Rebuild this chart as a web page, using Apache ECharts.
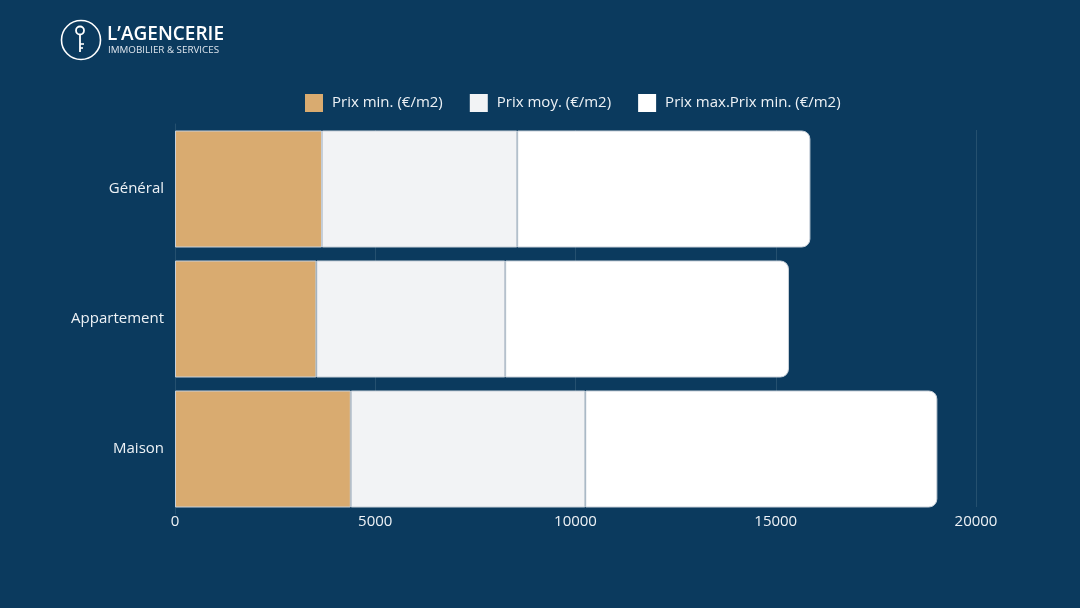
<!DOCTYPE html>
<html><head><meta charset="utf-8">
<script src="https://cdn.jsdelivr.net/npm/echarts@6/dist/echarts.min.js"></script>
<style>html,body{margin:0;padding:0;background:#0b3a5e}#c{width:1080px;height:608px}</style>
</head><body><div id="c"></div>
<script>
const categories = ['Général', 'Appartement', 'Maison'];
const seriesNames = ['Prix min. (€/m2)', 'Prix moy. (€/m2)', 'Prix max.Prix min. (€/m2)'];
const prixMin = [3670, 3530, 4390];
const prixMoy = [4875, 4715, 5855];
const prixMax = [7320, 7085, 8790];
const xTicks = [0, 5000, 10000, 15000, 20000];

const chart = echarts.init(document.getElementById('c'), null, {renderer: 'canvas'});
const FONT = '"Open Sans", "Noto Sans", sans-serif';
const bg = '#0b3a5e';
const border = '#c8d0d9';
const colors = ['#d9ab70', '#f2f3f5', '#ffffff'];
const datas = [prixMin, prixMoy, prixMax];

const option = {
  backgroundColor: bg,
  animation: false,
  textStyle: {fontFamily: FONT},
  legend: {
    top: 89, left: 300,
    itemWidth: 18, itemHeight: 18, itemGap: 27,
    icon: 'rect',
    itemStyle: {borderWidth: 0},
    textStyle: {color: '#eef2f6', fontSize: 15, fontFamily: FONT, padding: [0, 0, 0, 4]},
    data: seriesNames
  },
  grid: [
    {left: 175, right: 104, top: 130, bottom: 101},
    {left: 175, right: 104, top: 124, bottom: 94}
  ],
  xAxis: [
    {type: 'value', gridIndex: 0, min: xTicks[0], max: xTicks[xTicks.length - 1], interval: xTicks[1] - xTicks[0],
     axisLine: {show: false}, axisTick: {show: false},
     axisLabel: {color: '#eef2f6', fontSize: 15, fontFamily: FONT, margin: 7, formatter: v => String(v)},
     splitLine: {show: true, lineStyle: {color: '#25506f', width: 1}}},
    {type: 'value', gridIndex: 1, min: xTicks[0], max: xTicks[xTicks.length - 1],
     show: false, splitLine: {show: false}}
  ],
  yAxis: [
    {type: 'category', gridIndex: 0, data: categories, show: false},
    {type: 'category', gridIndex: 1, data: categories, inverse: true,
     axisLine: {show: true, lineStyle: {color: '#25506f'}}, axisTick: {show: false},
     axisLabel: {color: '#eef2f6', fontSize: 15, fontFamily: FONT, margin: 11}}
  ],
  series: seriesNames.map((n, i) => ({
    name: n, type: 'bar', stack: 'p', xAxisIndex: 1, yAxisIndex: 1,
    barWidth: 117,
    itemStyle: {color: colors[i], borderColor: border, borderWidth: 1,
      borderRadius: i === 2 ? [0, 8, 8, 0] : 0},
    emphasis: {disabled: true},
    data: datas[i]
  })),
  graphic: [
    {type: 'circle', shape: {cx: 81, cy: 40, r: 19.5}, style: {fill: 'none', stroke: '#ffffff', lineWidth: 1.6}},
    {type: 'circle', shape: {cx: 80, cy: 30.5, r: 4}, style: {fill: 'none', stroke: '#ffffff', lineWidth: 1.8}},
    {type: 'line', shape: {x1: 80, y1: 34.5, x2: 80, y2: 52}, style: {stroke: '#ffffff', lineWidth: 1.8}},
    {type: 'line', shape: {x1: 80, y1: 44, x2: 84, y2: 44}, style: {stroke: '#ffffff', lineWidth: 1.6}},
    {type: 'line', shape: {x1: 80, y1: 48, x2: 83, y2: 48}, style: {stroke: '#ffffff', lineWidth: 1.6}},
    {type: 'text', left: 107, top: 25, style: {text: 'L\u2019AGENCERIE', fill: '#ffffff', font: '600 19px "Open Sans", sans-serif'}},
    {type: 'text', left: 108, top: 45, style: {text: 'IMMOBILIER & SERVICES', fill: '#dfe6ee', font: '400 9.8px "Open Sans", sans-serif'}}
  ]
};
chart.setOption(option);
</script></body></html>
